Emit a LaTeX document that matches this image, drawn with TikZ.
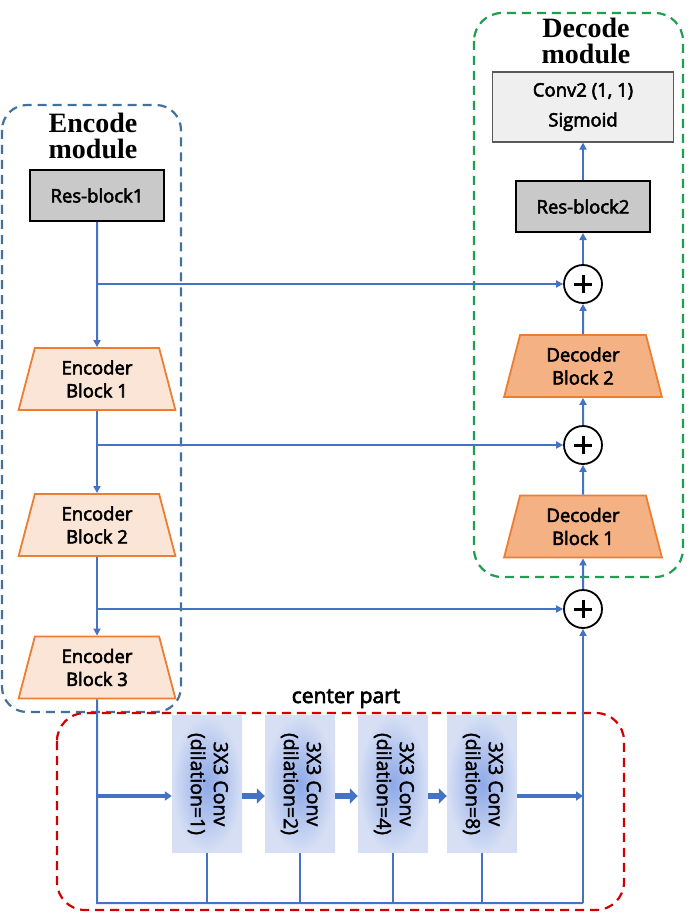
\documentclass[tikz,border=0pt]{standalone}
\usepackage{fontspec}
\usepackage{graphicx}
\setmainfont{Liberation Serif}
\newfontfamily\blk[FakeBold=3]{Open Sans}
\newfontfamily\osans[FakeBold=2]{Open Sans}
\usetikzlibrary{shapes.geometric,arrows.meta}
\definecolor{lineblue}{HTML}{4472C4}
\definecolor{encblue}{HTML}{41719C}
\definecolor{decgreen}{HTML}{1E9E4F}
\definecolor{cenred}{HTML}{D00000}
\definecolor{encfill}{HTML}{FBE5D6}
\definecolor{orng}{HTML}{ED7D31}
\definecolor{decfill}{HTML}{F4B183}
\definecolor{resgray}{HTML}{C9C9C9}
\definecolor{convgray}{HTML}{EFEFEF}
\definecolor{convin}{HTML}{8EA9E8}
\definecolor{convout}{HTML}{D6DFF4}
\begin{document}
\begin{tikzpicture}[x=1pt,y=-1pt,
  conn/.style={draw=lineblue, line width=2pt},
  arr/.style={conn, -{Triangle[length=7pt,width=7pt]}},
  fatarr/.style={draw=lineblue, line width=3.5pt, -{Triangle[length=7pt,width=9pt]}},
  blockarr/.style={draw=lineblue, line width=6pt, -{Triangle[length=8pt,width=15pt]}},
  trap/.style={trapezium, trapezium stretches=true, trapezium left angle=76, trapezium right angle=76,
    minimum width=158pt, minimum height=62pt, line width=1.8pt, draw=orng, align=center,
    font=\blk\fontsize{18.5}{23}\selectfont, inner sep=0pt},
  enc/.style={trap, fill=encfill},
  dec/.style={trap, fill=decfill},
  resbox/.style={rectangle, draw=black, line width=2pt, fill=resgray, minimum width=134pt,
    minimum height=51pt, font=\blk\fontsize{18.5}{20}\selectfont, inner sep=0pt},
  convbox/.style={rectangle, draw=none, shading=radial, inner color=convin, outer color=convout,
    minimum width=70pt, minimum height=137pt, inner sep=0pt, font=\osans\fontsize{19.5}{23}\selectfont},
  plus/.style={circle, draw=black, line width=1.8pt, fill=white, minimum size=38pt, inner sep=0pt,
    path picture={\draw[line width=3pt] ([xshift=-9pt]path picture bounding box.center) -- ([xshift=9pt]path picture bounding box.center);
      \draw[line width=3pt] ([yshift=-9pt]path picture bounding box.center) -- ([yshift=9pt]path picture bounding box.center);}},
  modtitle/.style={font=\bfseries\fontsize{28}{26}\selectfont, align=center, inner sep=0pt}
]
\useasboundingbox (0,0) rectangle (690,917);

% dashed module frames
\draw[encblue, line width=2.2pt, dash pattern=on 9pt off 6pt, rounded corners=25pt] (2,105) rectangle (181,712);
\draw[decgreen, line width=2.2pt, dash pattern=on 9pt off 6pt, rounded corners=28pt] (474,13) rectangle (683,577);
\draw[cenred, line width=2.2pt, dash pattern=on 9pt off 6pt, rounded corners=28pt] (57,713) rectangle (624,910);

% titles
\node[modtitle] (enctitle) at (93,136) {Encode\\module};
\node[modtitle] (dectitle) at (586,41) {Decode\\module};
\node[font=\blk\fontsize{21}{24}\selectfont, anchor=base] (cpt) at (346,703) {center part};

% encoder column
\node[resbox] (rb1) at (97,195.5) {Res-block1};
\node[enc] (eb1) at (97,379) {Encoder\\Block 1};
\node[enc] (eb2) at (97,525) {Encoder\\Block 2};
\node[enc] (eb3) at (97,667.5) {Encoder\\Block 3};

% decoder column
\node[rectangle, draw=black!65, line width=1.2pt, fill=convgray, minimum width=181pt, minimum height=70pt,
  inner sep=0pt, align=center, font=\blk\fontsize{18.5}{30}\selectfont] (cv) at (583,107) {Conv2 (1, 1)\\Sigmoid};
\node[resbox] (rb2) at (583,206.5) {Res-block2};
\node[plus] (p1) at (583,284) {};
\node[dec] (db2) at (583,366) {Decoder\\Block 2};
\node[plus] (p2) at (583,445) {};
\node[dec] (db1) at (583,526.5) {Decoder\\Block 1};
\node[plus] (p3) at (583,609) {};

% center part
\node[convbox] (c1) at (207,784) {\rotatebox{-90}{\begin{tabular}{@{}c@{}}3X3 Conv\\(dilation=1)\end{tabular}}};
\node[convbox] (c2) at (300,784) {\rotatebox{-90}{\begin{tabular}{@{}c@{}}3X3 Conv\\(dilation=2)\end{tabular}}};
\node[convbox] (c3) at (393,784) {\rotatebox{-90}{\begin{tabular}{@{}c@{}}3X3 Conv\\(dilation=4)\end{tabular}}};
\node[convbox] (c4) at (482,784) {\rotatebox{-90}{\begin{tabular}{@{}c@{}}3X3 Conv\\(dilation=8)\end{tabular}}};

\coordinate (ay) at (0,796);
\coordinate (by) at (0,903);
\coordinate (s1) at (97,284);
\coordinate (s2) at (97,445);
\coordinate (s3) at (97,609);
\coordinate (bl) at (97,903);
\coordinate (br) at (583,903);

% encoder connections
\draw[arr] (rb1.south) -- (eb1.north);
\draw[arr] (eb1.south) -- (eb2.north);
\draw[arr] (eb2.south) -- (eb3.north);
\draw[arr] (s1) -- (p1.west);
\draw[arr] (s2) -- (p2.west);
\draw[arr] (s3) -- (p3.west);

% decoder connections
\draw[arr] (br) -- (p3.south);
\draw[arr] (p3.north) -- (db1.south);
\draw[arr] (db1.north) -- (p2.south);
\draw[arr] (p2.north) -- (db2.south);
\draw[arr] (db2.north) -- (p1.south);
\draw[arr] (p1.north) -- (rb2.south);
\draw[arr] (rb2.north) -- (cv.south);

% center part connections
\draw[conn] (eb3.south) -- (bl) -- (br);
\draw[conn] (c1.south) -- (c1.south |- by);
\draw[conn] (c2.south) -- (c2.south |- by);
\draw[conn] (c3.south) -- (c3.south |- by);
\draw[conn] (c4.south) -- (c4.south |- by);
\draw[fatarr] (bl |- ay) -- (c1.west |- ay);
\draw[blockarr] (c1.east |- ay) -- (c2.west |- ay);
\draw[blockarr] (c2.east |- ay) -- (c3.west |- ay);
\draw[blockarr] (c3.east |- ay) -- (c4.west |- ay);
\draw[fatarr] (c4.east |- ay) -- (br |- ay);
\end{tikzpicture}
\end{document}
